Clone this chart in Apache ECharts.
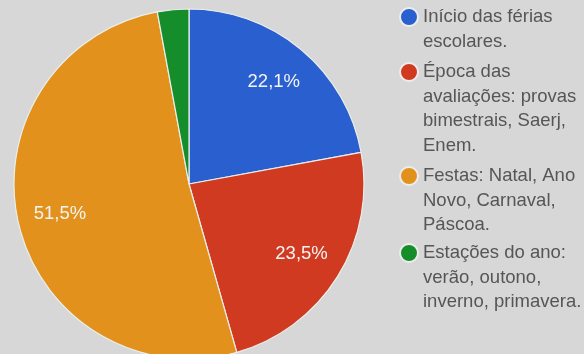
<!DOCTYPE html>
<html>
<head>
<meta charset="utf-8">
<script src="https://cdn.jsdelivr.net/npm/echarts@6/dist/echarts.min.js"></script>
<style>
  html, body { margin: 0; padding: 0; background: #d6d7d6; }
  #chart { width: 584px; height: 354px; }
</style>
</head>
<body>
<div id="chart"></div>
<script>
// Answer categories (line breaks as shown in the legend)
const categories = [
  'Início das férias\nescolares.',
  'Época das\navaliações: provas\nbimestrais, Saerj,\nEnem.',
  'Festas: Natal, Ano\nNovo, Carnaval,\nPáscoa.',
  'Estações do ano:\nverão, outono,\ninverno, primavera.'
];
// Share of responses, in percent
const shares = [22.1, 23.5, 51.5, 2.9];
const colors = ['#2a5fd0', '#d03a20', '#e2911d', '#168d2b'];

// Legend layout: vertical centre of each dot and line height of the text
const legendDotY = [17, 72, 176, 253];
const lineH = 24.5;

const fmtPct = v => v.toFixed(1).replace('.', ',') + '%';

// One legend per entry so each dot sits beside the first line of its text.
// Legend text is centred on the dot, so blank lines are prepended to push
// the first real line level with the dot.
const legends = categories.map((name, i) => {
  const n = name.split('\n').length;
  return {
    data: [name],
    orient: 'vertical',
    left: 399,
    top: legendDotY[i] - (2 * n - 1) * lineH / 2,
    padding: 0,
    icon: 'circle',
    itemWidth: 18,
    itemHeight: 18,
    selectedMode: false,
    formatter: label => '\n'.repeat(n - 1) + label,
    textStyle: {
      fontFamily: 'Liberation Sans, Arial, sans-serif',
      fontSize: 18.5,
      lineHeight: lineH,
      color: '#555655'
    }
  };
});

const chart = echarts.init(document.getElementById('chart'), null, { renderer: 'canvas' });
chart.setOption({
  backgroundColor: '#d6d7d6',
  color: colors,
  animation: false,
  legend: legends,
  series: [
    {
      type: 'pie',
      center: [189, 184],
      radius: 175,
      startAngle: 90,
      clockwise: true,
      label: { show: false },
      labelLine: { show: false },
      itemStyle: { borderColor: '#eceeec', borderWidth: 1.2 },
      emphasis: { disabled: true },
      data: categories.map((name, i) => ({ name, value: shares[i] }))
    },
    {
      // Percentage labels placed at about three quarters of the radius
      type: 'pie',
      center: [189, 184],
      radius: [84, 175],
      startAngle: 90,
      clockwise: true,
      silent: true,
      itemStyle: { color: 'transparent' },
      emphasis: { disabled: true },
      labelLine: { show: false },
      label: {
        show: true,
        position: 'inside',
        color: '#f4f4f4',
        fontFamily: 'Liberation Sans, Arial, sans-serif',
        fontSize: 18.5,
        formatter: p => fmtPct(p.value)
      },
      data: categories.map((name, i) => ({
        name,
        value: shares[i],
        label: { show: shares[i] >= 5 }
      }))
    }
  ]
});
</script>
</body>
</html>
